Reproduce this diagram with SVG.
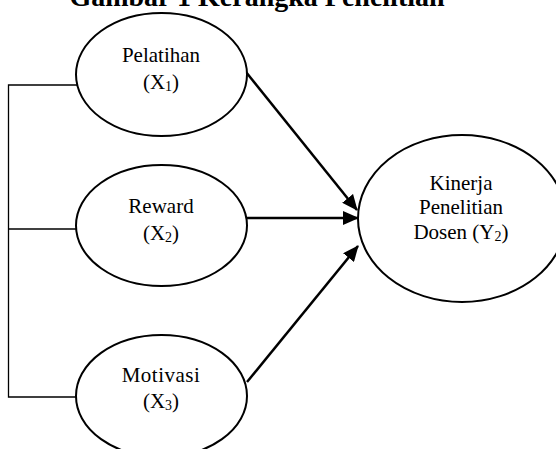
<svg xmlns="http://www.w3.org/2000/svg" width="556" height="449" viewBox="0 0 556 449">
<style>
.n{fill:#fff;stroke:#000;stroke-width:2}
.t{font-family:"Liberation Serif","Times New Roman",serif;font-size:21px;fill:#000;text-anchor:middle}
.s{font-size:14px}
.c{stroke:#000;stroke-width:1.3;fill:none}
.a{stroke:#000;stroke-width:2.5;fill:none;marker-end:url(#ah)}
</style>
<defs>
<marker id="ah" markerWidth="16" markerHeight="14" refX="15" refY="7" orient="auto" markerUnits="userSpaceOnUse">
<path d="M0,0 L16,7 L0,14 Z" fill="#000"/>
</marker>
</defs>
<rect width="556" height="449" fill="#fff"/>
<text x="257" y="6" style="font-family:'Liberation Serif','Times New Roman',serif;font-size:28px;font-weight:bold;text-anchor:middle">Gambar 1 Kerangka Penelitian</text>
<g id="connectors">
<polyline class="c" points="77,85 8.5,85 8.5,397 77,397"/>
<line class="c" x1="8.5" y1="229" x2="77" y2="229"/>
<line class="a" x1="246" y1="72" x2="357" y2="210"/>
<line class="a" x1="247" y1="218" x2="358" y2="218"/>
<line class="a" x1="247" y1="382" x2="358" y2="246"/>
</g>
<g id="x1">
<ellipse class="n" cx="161.5" cy="74.5" rx="85.5" ry="61.5"/>
<text class="t" x="161" y="62">Pelatihan</text>
<text class="t" x="161" y="89">(X<tspan class="s" dy="2">1</tspan><tspan dy="-2">)</tspan></text>
</g>
<g id="x2">
<ellipse class="n" cx="161.5" cy="225.5" rx="85.5" ry="60.5"/>
<text class="t" x="161" y="213">Reward</text>
<text class="t" x="161" y="240">(X<tspan class="s" dy="2">2</tspan><tspan dy="-2">)</tspan></text>
</g>
<g id="x3">
<ellipse class="n" cx="161.5" cy="396" rx="85.5" ry="61"/>
<text class="t" x="161" y="382" letter-spacing="0.5">Motivasi</text>
<text class="t" x="161" y="408">(X<tspan class="s" dy="2">3</tspan><tspan dy="-2">)</tspan></text>
</g>
<g id="y2">
<ellipse class="n" cx="462" cy="218.5" rx="104" ry="83.5"/>
<text class="t" x="461" y="190">Kinerja</text>
<text class="t" x="461" y="214">Penelitian</text>
<text class="t" x="461" y="239">Dosen (Y<tspan class="s" dy="2">2</tspan><tspan dy="-2">)</tspan></text>
</g>
</svg>
